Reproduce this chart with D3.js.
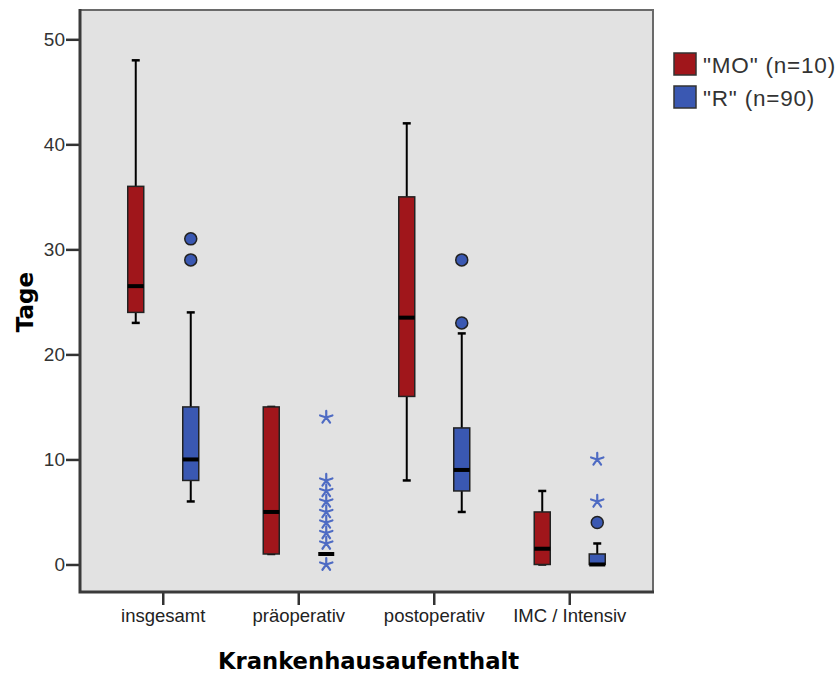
<!DOCTYPE html>
<html>
<head>
<meta charset="utf-8">
<script src="https://cdn.jsdelivr.net/npm/d3@7"></script>
<style>
  html, body { margin: 0; padding: 0; background: #fff; }
  svg { display: block; }
</style>
</head>
<body>
<svg id="chart" width="836" height="675"></svg>
<script>
// ---------------- data ----------------
const categories = ["insgesamt", "präoperativ", "postoperativ", "IMC / Intensiv"];
const seriesNames = ["\"MO\" (n=10)", "\"R\" (n=90)"];
const yTicks = [0, 10, 20, 30, 40, 50];

// five-number summaries: [whisker low, Q1, median, Q3, whisker high]
const moStats = [
  [23, 24, 26.5, 36, 48],
  [1, 1, 5, 15, 15],
  [8, 16, 23.5, 35, 42],
  [0, 0, 1.5, 5, 7]
];
const rStats = [
  [6, 8, 10, 15, 24],
  [1, 1, 1, 1, 1],
  [5, 7, 9, 13, 22],
  [0, 0, 0, 1, 2]
];
// outliers (circles) and extremes (stars)
const moOutliers = [[], [], [], []];
const moExtremes = [[], [], [], []];
const rOutliers = [[29, 31], [], [23, 29], [4]];
const rExtremes = [[], [0, 2, 3, 4, 5, 6, 7, 8, 14], [], [6, 10]];

// ---------------- layout ----------------
const svg = d3.select("#chart");
const plot = { left: 80, right: 653, top: 10, bottom: 592 };
const colors = ["#A0161B", "#3A58B2"];
const starColor = "#4E6BC3";

const x = d3.scaleBand().domain(categories).range([plot.left, plot.right])
  .paddingInner(0).paddingOuter(0.1144);
const sub = d3.scaleBand().domain([0, 1]).range([-55, 55]).paddingInner(0).paddingOuter(0);
const y = d3.scaleLinear().domain([-2.62, 52.79]).range([plot.bottom, plot.top]);

const boxW = 16, capW = 8;

// background
svg.append("rect")
  .attr("x", plot.left).attr("y", plot.top)
  .attr("width", plot.right - plot.left).attr("height", plot.bottom - plot.top)
  .attr("fill", "#E2E2E2");

// top & right frame
svg.append("path")
  .attr("d", `M${plot.left},${plot.top}H${plot.right}V${plot.bottom}`)
  .attr("fill", "none").attr("stroke", "#6a6a6a").attr("stroke-width", 2);

const series = [
  { stats: moStats, outliers: moOutliers, extremes: moExtremes },
  { stats: rStats, outliers: rOutliers, extremes: rExtremes }
];

function cx(ci, si) {
  return x(categories[ci]) + x.bandwidth() / 2 + sub(si) + sub.bandwidth() / 2;
}

const g = svg.append("g");

series.forEach((s, si) => {
  s.stats.forEach((st, ci) => {
    const c = cx(ci, si);
    const [lo, q1, med, q3, hi] = st;
    // whiskers
    if (hi > q3) {
      g.append("line").attr("x1", c).attr("x2", c).attr("y1", y(q3)).attr("y2", y(hi))
        .attr("stroke", "#000").attr("stroke-width", 2);
    }
    if (lo < q1) {
      g.append("line").attr("x1", c).attr("x2", c).attr("y1", y(q1)).attr("y2", y(lo))
        .attr("stroke", "#000").attr("stroke-width", 2);
    }
    // caps
    if (hi > q3 || lo < q1 || q3 > q1) {
      [lo, hi].forEach(v => {
        g.append("line").attr("x1", c - capW / 2).attr("x2", c + capW / 2)
          .attr("y1", y(v)).attr("y2", y(v))
          .attr("stroke", "#000").attr("stroke-width", 2.5);
      });
    }
    // box
    if (q3 > q1) {
      g.append("rect")
        .attr("x", c - boxW / 2).attr("y", y(q3))
        .attr("width", boxW).attr("height", y(q1) - y(q3))
        .attr("fill", colors[si]).attr("stroke", "#222").attr("stroke-width", 1.5);
    }
    // median
    g.append("line").attr("x1", c - boxW / 2).attr("x2", c + boxW / 2)
      .attr("y1", y(med)).attr("y2", y(med))
      .attr("stroke", "#000").attr("stroke-width", 4);

    // outliers
    s.outliers[ci].forEach(v => {
      g.append("circle").attr("cx", c).attr("cy", y(v)).attr("r", 6)
        .attr("fill", colors[si]).attr("stroke", "#222").attr("stroke-width", 1.5);
    });
    // extremes (stars)
    s.extremes[ci].forEach(v => {
      const r = 6.5;
      let d = "";
      for (let k = 0; k < 5; k++) {
        const a = -Math.PI / 2 + k * 2 * Math.PI / 5;
        d += `M${c},${y(v)}L${c + r * Math.cos(a)},${y(v) + r * Math.sin(a)}`;
      }
      g.append("path").attr("d", d).attr("stroke", starColor)
        .attr("stroke-width", 2.2).attr("fill", "none").attr("stroke-linecap", "round");
    });
  });
});

// axes
const yAxis = d3.axisLeft(y).tickValues(yTicks).tickSize(14).tickPadding(1).tickFormat(d3.format("d"));
const yG = svg.append("g").attr("transform", `translate(${plot.left},0)`).call(yAxis);
yG.select(".domain").remove();
yG.selectAll(".tick line").attr("stroke", "#333").attr("stroke-width", 2.5);
yG.selectAll(".tick text").attr("fill", "#333")
  .style("font-family", "'Liberation Sans', Arial, sans-serif").style("font-size", "19px");

const xAxis = d3.axisBottom(x).tickSize(13).tickPadding(4);
const xG = svg.append("g").attr("transform", `translate(0,${plot.bottom})`).call(xAxis);
xG.select(".domain").remove();
xG.selectAll(".tick line").attr("stroke", "#333").attr("stroke-width", 2.5);
xG.selectAll(".tick text").attr("fill", "#222")
  .style("font-family", "'Liberation Sans', Arial, sans-serif").style("font-size", "18.5px");

// left & bottom axis lines
svg.append("path")
  .attr("d", `M${plot.left},${plot.top - 1}V${plot.bottom}H${plot.right + 1}`)
  .attr("fill", "none").attr("stroke", "#3a3a3a").attr("stroke-width", 3);

// axis titles
svg.append("text")
  .attr("x", (plot.left + plot.right) / 2 + 2).attr("y", 669)
  .attr("text-anchor", "middle")
  .style("font-family", "'DejaVu Sans', sans-serif").style("font-weight", "bold")
  .style("font-size", "22.7px").attr("fill", "#000")
  .text("Krankenhausaufenthalt");

svg.append("text")
  .attr("transform", `translate(33,${(plot.top + plot.bottom) / 2 + 1}) rotate(-90)`)
  .attr("text-anchor", "middle")
  .style("font-family", "'DejaVu Sans', sans-serif").style("font-weight", "bold")
  .style("font-size", "23px").attr("fill", "#000")
  .text("Tage");

// legend
const leg = svg.append("g");
seriesNames.forEach((name, i) => {
  const yy = 53 + i * 33;
  leg.append("rect").attr("x", 674).attr("y", yy).attr("width", 22).attr("height", 22)
    .attr("fill", colors[i]).attr("stroke", "#333").attr("stroke-width", 1.5);
  leg.append("text").attr("x", 703).attr("y", yy + 20)
    .style("font-family", "'Liberation Sans', Arial, sans-serif").style("font-size", "22.5px")
    .style("letter-spacing", "0.8px")
    .attr("fill", "#333").text(name);
});
</script>
</body>
</html>
